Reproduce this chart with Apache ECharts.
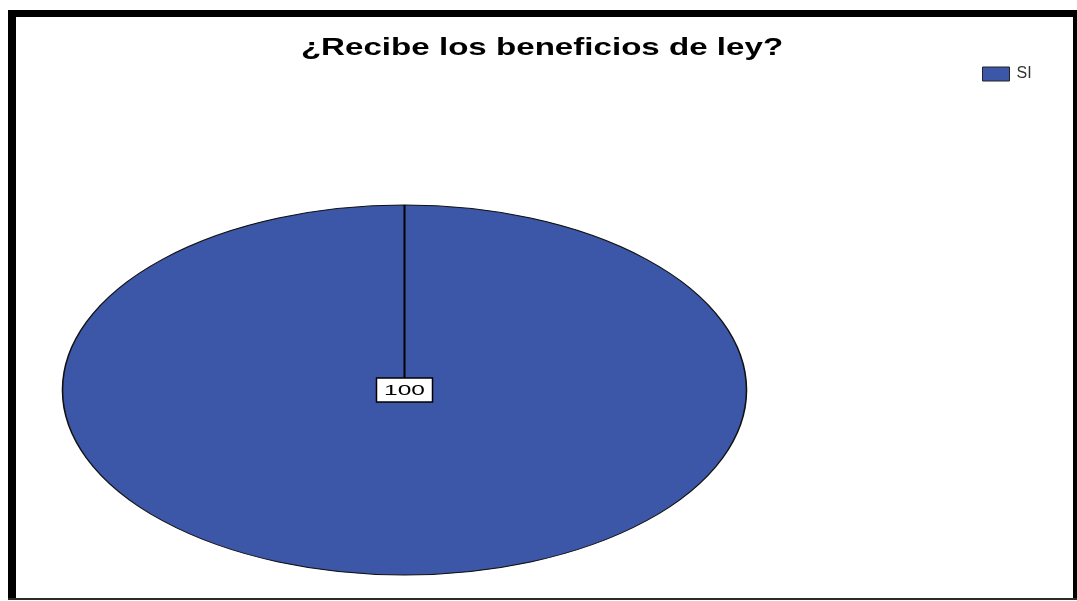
<!DOCTYPE html>
<html>
<head>
<meta charset="utf-8">
<script src="https://cdn.jsdelivr.net/npm/echarts@6/dist/echarts.min.js"></script>
<style>
  html, body { margin: 0; padding: 0; background: #ffffff; }
  #chart { width: 1077px; height: 601px; }
</style>
</head>
<body>
<div id="chart"></div>
<script>
// Chart data
const categories = ['SI'];
const values = [100];
const titleText = '¿Recibe los beneficios de ley?';
const sliceColors = ['#3D57A8'];

const chart = echarts.init(document.getElementById('chart'), null, { renderer: 'canvas' });

// Elliptical pie geometry (pixels)
const PIE = { cx: 404.5, cy: 390, rx: 342, ry: 185 };

const total = values.reduce((a, b) => a + b, 0);
const startsAt = [];
values.reduce((acc, v) => { startsAt.push(acc); return acc + v; }, 0);

function renderSlice(params, api) {
  const i = params.seriesIndex;
  const v = api.value(0);
  const a0 = -Math.PI / 2 + (startsAt[i] / total) * Math.PI * 2;
  const a1 = a0 + (v / total) * Math.PI * 2;
  const k = PIE.ry / PIE.rx;
  const full = v >= total;
  const mid = (a0 + a1) / 2;
  const lx = full ? PIE.cx : PIE.cx + PIE.rx * 0.6 * Math.cos(mid);
  const ly = full ? PIE.cy : PIE.cy + PIE.ry * 0.6 * Math.sin(mid);
  const boxW = 56, boxH = 24;
  return {
    type: 'group',
    children: [
      {
        type: 'sector',
        x: PIE.cx, y: PIE.cy, scaleY: k,
        shape: { cx: 0, cy: 0, r: PIE.rx, r0: 0, startAngle: a0, endAngle: a1, clockwise: true },
        style: { fill: api.visual('color'), stroke: '#111111', lineWidth: 1.6, strokeNoScale: true }
      },
      {
        type: 'line',
        shape: {
          x1: PIE.cx, y1: PIE.cy,
          x2: PIE.cx + PIE.rx * Math.cos(a0), y2: PIE.cy + PIE.ry * Math.sin(a0)
        },
        style: { stroke: '#000000', lineWidth: 2 }
      },
      {
        type: 'rect',
        shape: { x: lx - boxW / 2, y: ly - boxH / 2, width: boxW, height: boxH },
        style: { fill: '#ffffff', stroke: '#000000', lineWidth: 1.5 }
      },
      {
        type: 'text',
        x: lx, y: ly + 1, scaleX: 1.75,
        style: {
          text: String(v),
          font: '14px "Liberation Sans", Arial, sans-serif',
          fill: '#000000',
          align: 'center',
          verticalAlign: 'middle'
        }
      }
    ]
  };
}

const option = {
  backgroundColor: '#ffffff',
  animation: false,
  legend: {
    data: categories,
    left: 982,
    top: 66,
    padding: 0,
    icon: 'rect',
    itemWidth: 27,
    itemHeight: 14,
    itemGap: 10,
    orient: 'vertical',
    itemStyle: { borderColor: '#222222', borderWidth: 1 },
    textStyle: { fontFamily: '"Liberation Sans", Arial, sans-serif', fontSize: 16, color: '#333333', padding: [0, 0, 0, 2] }
  },
  graphic: [
    // frame
    { type: 'rect', shape: { x: 8, y: 10, width: 1069, height: 7 }, style: { fill: '#000000' }, silent: true },
    { type: 'rect', shape: { x: 8, y: 10, width: 8, height: 590 }, style: { fill: '#000000' }, silent: true },
    { type: 'rect', shape: { x: 1073, y: 10, width: 4, height: 590 }, style: { fill: '#000000' }, silent: true },
    { type: 'rect', shape: { x: 8, y: 598, width: 1069, height: 2 }, style: { fill: '#2a2a2a' }, silent: true },
    // title
    {
      type: 'text',
      x: 542, y: 48.5, scaleX: 1.38,
      style: {
        text: titleText,
        font: 'bold 24px "Liberation Sans", Arial, sans-serif',
        fill: '#000000',
        align: 'center',
        verticalAlign: 'middle'
      },
      silent: true
    }
  ],
  series: categories.map((name, i) => ({
    type: 'custom',
    name: name,
    coordinateSystem: 'none',
    itemStyle: { color: sliceColors[i % sliceColors.length] },
    data: [values[i]],
    renderItem: renderSlice
  }))
};

chart.setOption(option);
</script>
</body>
</html>
